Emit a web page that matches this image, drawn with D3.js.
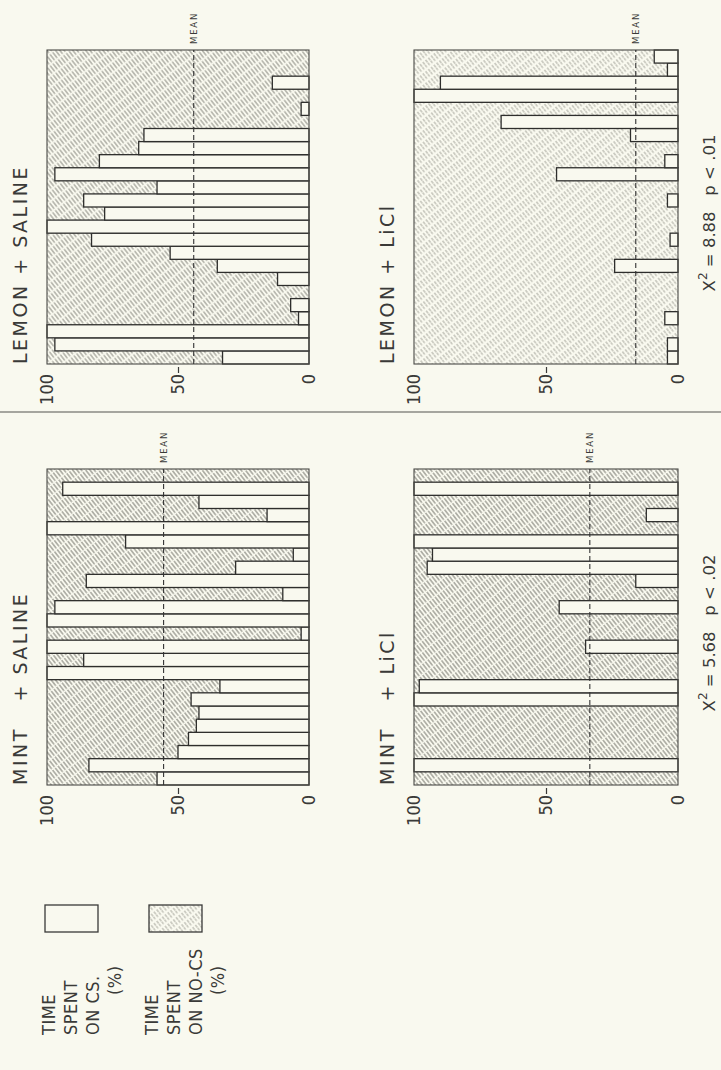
<!DOCTYPE html>
<html>
<head>
<meta charset="utf-8">
<script src="https://cdn.jsdelivr.net/npm/d3@7"></script>
<style>
body { margin: 0; background: #f9f9ef; }
svg { display: block; }
text { font-family: "DejaVu Sans", sans-serif; fill: #3a3a38; }
.cond { font-family: "DejaVu Sans Condensed", "DejaVu Sans", sans-serif; font-stretch: condensed; }
</style>
</head>
<body>
<div class="chart"></div>
<script>
const width = 721;
const height = 1070;
const BG = "#f9f9ef";
const INK = "#3a3a38";

// % time on CS for each of the 24 subjects, left to right in the upright figure
const subjects = d3.range(24);
const mintSaline = [58, 84, 50, 46, 43, 42, 45, 34, 100, 86, 100, 3, 100, 97, 10, 85, 28, 6, 70, 100, 16, 42, 94, 0];
const mintLicl = [0, 100, 0, 0, 0, 0, 100, 98, 0, 0, 35, 0, 0, 45, 0, 16, 95, 93, 100, 0, 12, 0, 100, 0];
const lemonSaline = [33, 97, 100, 4, 7, 0, 12, 35, 53, 83, 100, 78, 86, 58, 97, 80, 65, 63, 0, 3, 0, 14, 0, 0];
const lemonLicl = [4, 4, 0, 5, 0, 0, 0, 24, 0, 3, 0, 0, 4, 0, 46, 5, 0, 18, 67, 0, 100, 90, 4, 9];
const panelTitles = ["MINT\u00a0\u00a0\u00a0+ SALINE", "MINT\u00a0\u00a0\u00a0+ LiCl", "LEMON + SALINE", "LEMON + LiCl"];
const panelMeans = [55.5, 33.4, 44, 16];
const tickValues = [0, 50, 100];
const chiValues = ["5.68", "8.88"];
const pValues = [".02", ".01"];
const legendCS = ["TIME", "SPENT", "ON CS.", "(%)"];
const legendNoCS = ["TIME", "SPENT", "ON NO-CS", "(%)"];

const svg = d3.select(".chart").append("svg").attr("width", width).attr("height", height);
svg.append("rect").attr("width", width).attr("height", height).attr("fill", BG);

const defs = svg.append("defs");
function hatch(id, color, gap, sw, dash) {
    const p = defs.append("pattern").attr("id", id).attr("patternUnits", "userSpaceOnUse")
        .attr("width", 9).attr("height", gap).attr("patternTransform", "rotate(-38)");
    p.append("path").attr("d", "M0," + (gap / 2) + "H9").attr("stroke", color)
        .attr("stroke-width", sw).attr("stroke-dasharray", dash);
}
hatch("hDark", "#68685f", 3.4, 1, "6 1.3");
hatch("hMid", "#7c7c74", 3.4, 0.95, "4.5 1.8");
hatch("hLight", "#95958c", 3.5, 0.85, "3 2.4");

// the figure is printed on its side: draw it upright, then turn it
const g = svg.append("g").attr("transform", "translate(0," + height + ") rotate(-90)");

const cols = [[285, 601], [706, 1020]];
const rows = [[47, 309], [414, 678]];
const panels = [
    { values: mintSaline, col: 0, row: 0, fill: "hDark" },
    { values: mintLicl, col: 0, row: 1, fill: "hDark" },
    { values: lemonSaline, col: 1, row: 0, fill: "hMid" },
    { values: lemonLicl, col: 1, row: 1, fill: "hLight" }
];

panels.forEach((p, k) => {
    const [u0, u1] = cols[p.col];
    const [v0, v1] = rows[p.row];
    const x = d3.scaleBand().domain(subjects).range([u0, u1]).padding(0);
    const y = d3.scaleLinear().domain([0, 100]).range([v1, v0]);
    const pg = g.append("g");

    pg.append("rect").attr("x", u0).attr("y", v0).attr("width", u1 - u0).attr("height", v1 - v0)
        .attr("fill", "url(#" + p.fill + ")");

    pg.selectAll("rect.bar").data(p.values.map((v, i) => ({ i, v })).filter(d => d.v > 0)).join("rect")
        .attr("class", "bar")
        .attr("x", d => x(d.i)).attr("y", d => y(d.v))
        .attr("width", x.bandwidth()).attr("height", d => y(0) - y(d.v))
        .attr("fill", BG).attr("stroke", "#2e2e2c").attr("stroke-width", 1.3);

    pg.append("rect").attr("x", u0).attr("y", v0).attr("width", u1 - u0).attr("height", v1 - v0)
        .attr("fill", "none").attr("stroke", "#4a4a46").attr("stroke-width", 1.1);

    pg.append("line").attr("x1", u0).attr("x2", u1).attr("y1", y(panelMeans[k])).attr("y2", y(panelMeans[k]))
        .attr("stroke", "#333").attr("stroke-width", 1.1).attr("stroke-dasharray", "5 3");
    pg.append("text").attr("x", u1 + 6).attr("y", y(panelMeans[k])).attr("dy", "0.35em")
        .attr("font-size", 8.5).attr("letter-spacing", 1.8).text("MEAN");

    const axis = d3.axisLeft(y).tickValues(tickValues).tickSize(6).tickPadding(1);
    pg.append("g").attr("transform", "translate(" + (u0 - 3) + ",0)").call(axis)
        .call(a => a.select(".domain").remove())
        .call(a => a.selectAll(".tick").filter(d => d !== 50).select("line").remove())
        .call(a => a.selectAll(".tick line").attr("stroke", INK).attr("stroke-width", 1.2))
        .call(a => a.selectAll("text").attr("class", "cond").attr("font-size", 18));

    pg.append("text").attr("x", u0).attr("y", v0 - 20).attr("font-size", 19).attr("letter-spacing", 2.5)
        .style("white-space", "pre").text(panelTitles[k]);

    if (p.row === 1) {
        const t = pg.append("text").attr("x", (u0 + u1) / 2 - 6).attr("y", 715)
            .attr("text-anchor", "middle").attr("font-size", 16.5);
        t.append("tspan").text("X");
        t.append("tspan").attr("dy", -8).attr("font-size", 12).text("2");
        t.append("tspan").attr("dy", 8).style("white-space", "pre")
            .text(" = " + chiValues[p.col] + "   p < " + pValues[p.col]);
    }
});

// divider between the two odours
g.append("line").attr("x1", 658).attr("x2", 658).attr("y1", 0).attr("y2", width)
    .attr("stroke", "#555550").attr("stroke-width", 1.2);

// legend
const legend = g.append("g");
legend.append("rect").attr("x", 138).attr("y", 45).attr("width", 27).attr("height", 53)
    .attr("fill", BG).attr("stroke", "#3a3a38").attr("stroke-width", 1.3);
legend.append("rect").attr("x", 138).attr("y", 149).attr("width", 27).attr("height", 53)
    .attr("fill", "url(#hLight)").attr("stroke", "#3a3a38").attr("stroke-width", 1.3);
[[legendCS, 55], [legendNoCS, 158]].forEach(([lines, v]) => {
    legend.selectAll(null).data(lines).join("text")
        .attr("class", "cond")
        .attr("x", (d, i) => i === 3 ? 75 : 35)
        .attr("y", (d, i) => v + i * 22)
        .attr("font-size", 18).attr("letter-spacing", 0.5)
        .text(d => d);
});
</script>
</body>
</html>
